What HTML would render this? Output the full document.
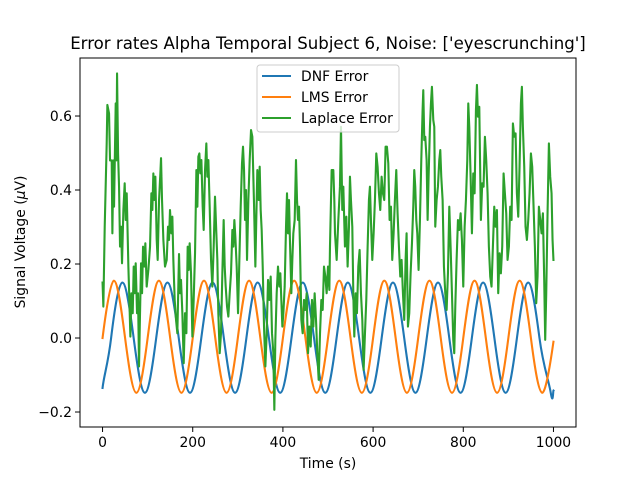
<!DOCTYPE html>
<html><head><meta charset="utf-8"><style>
html,body{margin:0;padding:0;background:#fff}
svg{display:block;font-family:"DejaVu Sans","Liberation Sans",sans-serif}
</style></head><body>
<svg id="chart" width="640" height="480" viewBox="0 0 640 480">
<rect width="640" height="480" fill="#fff"/>
<text x="328" y="49" text-anchor="middle" font-size="16.6" fill="#000">Error rates Alpha Temporal Subject 6, Noise: ['eyescrunching']</text>
<g id="plot"></g>
<g id="xticks"></g>
<g id="yticks"></g>
<rect x="80" y="58" width="496" height="369" fill="none" stroke="#000" stroke-width="1"/>
<text x="328" y="468" text-anchor="middle" font-size="13.9">Time (s)</text>
<text transform="translate(25,242) rotate(-90)" text-anchor="middle" font-size="13.9">Signal Voltage (<tspan font-style="italic">μ</tspan>V)</text>
<g>
<rect x="257" y="65" width="142" height="67" rx="3" fill="#fff" fill-opacity="0.8" stroke="#ccc"/>
<line x1="262" y1="76" x2="291" y2="76" stroke="#1f77b4" stroke-width="2.1"/>
<text x="301" y="81" font-size="13.9">DNF Error</text>
<line x1="262" y1="97" x2="291" y2="97" stroke="#ff7f0e" stroke-width="2.1"/>
<text x="301" y="102" font-size="13.9">LMS Error</text>
<line x1="262" y1="118" x2="291" y2="118" stroke="#2ca02c" stroke-width="2.1"/>
<text x="301" y="123" font-size="13.9">Laplace Error</text>
</g>
</svg>
<script>
const xTicks=[0,200,400,600,800,1000];
const yTicks=[-0.2,0,0.2,0.4,0.6];
const yTickLabels=["−0.2","0.0","0.2","0.4","0.6"];
const lmsT=[0,25,50,75,100,125,150,175,200,225,250,275,300,325,350,375,400,425,450,475,500,525,550,575,600,625,650,675,700,725,750,775,800,825,850,875,900,925,950,975,1000];
const lmsV=[0,.155,0,-.148,0,.155,0,-.148,0,.155,0,-.148,0,.155,0,-.148,0,.155,0,-.148,0,.155,0,-.148,0,.155,0,-.148,0,.155,0,-.148,0,.155,0,-.148,0,.155,0,-.148,-.01];
const dnfT=[0,19,44,69,94,119,144,169,194,219,244,269,294,319,344,369,394,419,444,469,494,519,544,569,594,619,644,669,694,719,744,769,794,819,844,869,894,919,944,969,994,1000];
const dnfV=[-.135,0,.15,0,-.148,0,.15,0,-.148,0,.15,0,-.148,0,.15,0,-.148,0,.15,0,-.148,0,.15,0,-.148,0,.15,0,-.148,0,.15,0,-.148,0,.15,0,-.148,0,.15,0,-.148,-.142];
const lapT=[0,1.8,4.8,9.2,10.7,14.4,16.6,20.3,21.8,24,25.5,29.2,30.7,32.2,34.4,36.6,38.8,41,43.2,46.2,49.1,51.4,53.6,57.3,59.5,61.7,64,66.9,69.1,71.3,73.5,76.5,78.7,80.9,83.1,85.4,87.6,89.8,92.7,94.9,97.9,101.6,105.3,108.3,110.5,112.7,114.9,117.1,120.1,122.3,125.3,128.2,129.7,131.9,134.9,138.5,142.3,145.2,147.4,149.6,152.6,154.8,157,160,163,165.9,169.6,171.8,174,177,180,182.9,185.9,188.8,191,193.2,196.2,199.2,202.1,205.1,208.1,210.3,212.5,214.7,216.9,219.2,222.1,224.3,227.3,230.2,232.4,234.7,237.6,240.6,243.5,246.5,249.4,252.4,254.6,256.8,259.8,262.7,265.7,268.6,270.9,273.1,276.1,279,282,284.9,287.9,290.1,292.3,294.5,297.5,300.5,303.4,306.4,309.3,311.5,313.8,316,318.2,320.4,323.4,326.3,329.3,332.2,335.9,338.9,341.1,343.3,346.3,348.5,350.7,352.9,355.2,358.1,361.1,364,367,369.9,372.9,375.8,378.8,381,383.2,386.2,389.1,392.1,394.3,396.5,398.8,401,403.9,406.9,409.1,411.3,413.5,415.8,418.7,420.9,423.1,426.1,429,431.3,433.5,435.7,437.9,440.9,443.8,446.8,449.8,452.7,455.7,458.6,461.6,464.5,467.5,470.4,473.4,476.3,479.3,482.3,485.2,488.2,491.1,494.1,497,500,503,504.4,508.1,511.8,514,515.5,519.2,522.9,526.5,528.8,531.7,534,537.6,540.6,543.5,546.5,548.7,550.9,553.9,556.1,558.3,561.3,564.2,567.2,570.1,573.1,576.1,579,582,584.9,587.9,590.8,593,595.2,598.2,601.2,604.1,607.1,610,613,615.9,618.9,621.8,624.8,627.7,630.7,633.7,636.6,639.6,642.5,645.5,648.4,651.4,654.3,657.3,660.3,663.2,666.2,669.1,672.1,674.3,677.3,680.2,683.2,686.2,689.1,691.3,693.5,695.8,698,700.9,703.9,706.9,709.8,711.3,713.5,715.7,718.7,720.9,723.1,726.1,728.3,730.5,733.5,735.7,737.9,740.9,743.8,746.8,749,751.2,754.2,757.1,760.1,763.1,766,769,771.9,774.9,777.8,780,782.3,785.2,788.2,791.1,794.1,797,800,803,805.9,808.9,811.1,813.3,816.3,819.2,822.2,825.1,828.1,830.3,832.6,835.5,839.1,842,845,848,850.9,853.9,856.8,859.8,862.7,865.7,868.7,871.6,874.6,877.5,880.5,883.4,886.4,889.4,892.3,895.3,898.2,901.2,904.1,907.1,910.1,913,916,918.9,921.9,924.8,927.8,930,932.2,935.2,938.1,941.1,944.1,947,950,952.9,955.9,958.8,961.8,964.7,967.7,970.7,973.6,976.6,979.5,981.7,984,986.9,989.9,992.8,995.8,998,1000];
const lapV=[0.15,0.085,0.30,0.526,0.63,0.607,0.48,0.48,0.283,0.48,0.355,0.634,0.48,0.715,0.499,0.409,0.247,0.301,0.202,0.346,0.418,0.319,0.391,0.193,0.103,0.004,0.121,0.067,0.193,0.121,0.202,0.067,0.121,-0.077,0.067,0.202,0.121,0.247,0.193,0.256,0.139,0.184,0.247,0.391,0.346,0.445,0.373,0.436,0.265,0.211,0.373,0.445,0.486,0.373,0.265,0.193,0.211,0.301,0.265,0.346,0.283,0.328,0.211,0.103,0.049,0.013,0.227,0.121,0.157,0.067,-0.068,0.067,0.013,0.247,0.184,0.256,0.175,0.004,0.103,0.229,0.454,0.355,0.49,0.499,0.445,0.481,0.355,0.292,0.454,0.526,0.436,0.481,0.355,0.211,0.139,0.247,0.382,0.283,0.211,0.067,-0.041,0.013,0.175,0.319,0.193,0.139,0.085,0.058,0.121,0.175,0.292,0.247,0.319,0.274,0.193,0.067,0.211,0.355,0.472,0.517,0.454,0.319,0.4,0.211,0.373,0.481,0.562,0.544,0.364,0.193,0.328,0.454,0.373,0.463,0.346,0.292,0.193,0.031,-0.077,0.013,0.157,0.103,0.166,0.013,-0.041,-0.194,-0.005,0.121,0.193,0.139,0.175,0.103,0.031,0.067,0.139,0.301,0.391,0.283,0.373,0.256,0.121,0.211,0.283,0.319,0.481,0.373,0.319,0.355,0.247,0.049,0.013,0.103,0.076,0.121,-0.041,0.031,-0.023,0.103,0.031,0.121,0.049,-0.041,-0.113,0.013,0.103,0.076,0.193,0.166,0.121,0.193,0.130,0.247,0.454,0.454,0.373,0.283,0.211,0.319,0.409,0.571,0.346,0.409,0.247,0.328,0.193,0.301,0.436,0.373,0.301,0.121,0.004,0.121,0.067,0.193,0.238,0.121,0.049,-0.086,0.013,0.103,0.247,0.373,0.409,0.319,0.211,0.283,0.373,0.499,0.463,0.391,0.346,0.436,0.391,0.373,0.517,0.517,0.472,0.319,0.355,0.211,0.283,0.373,0.454,0.337,0.247,0.166,0.211,0.121,0.049,0.211,0.283,0.031,0.067,0.175,0.256,0.355,0.454,0.409,0.319,0.283,0.184,0.319,0.481,0.616,0.67,0.535,0.544,0.481,0.319,0.436,0.571,0.634,0.679,0.589,0.571,0.301,0.373,0.409,0.481,0.508,0.436,0.373,0.193,0.121,0.076,0.175,0.355,0.247,0.121,-0.005,-0.041,0.085,0.211,0.319,0.292,0.337,0.265,0.139,0.301,0.373,0.481,0.634,0.571,0.436,0.283,0.445,0.391,0.616,0.684,0.598,0.625,0.319,0.418,0.409,0.544,0.481,0.391,0.247,0.166,0.139,0.247,0.355,0.301,0.346,0.121,0.229,0.175,0.247,0.445,0.391,0.337,0.211,0.247,0.355,0.319,0.58,0.544,0.553,0.391,0.328,0.463,0.634,0.679,0.571,0.463,0.301,0.265,0.319,0.391,0.499,0.463,0.355,0.247,0.094,0.166,0.355,0.319,0.283,0.337,0.157,-0.005,0.121,0.337,0.526,0.436,0.391,0.265,0.211];

const NS="http://www.w3.org/2000/svg";
const X0=80,X1=576,Y0=427,Y1=58,xmin=-50,xmax=1050,ymin=-0.2405,ymax=0.7568;
function sx(t){return X0+(t-xmin)/(xmax-xmin)*(X1-X0);}
function sy(v){return Y0-(v-ymin)/(ymax-ymin)*(Y0-Y1);}
const plot=document.getElementById('plot');
function smoothPath(T,V){
  const p=T.map((t,i)=>[sx(t),sy(V[i])]);
  const k=0.26;
  let d="M"+p[0][0].toFixed(2)+","+p[0][1].toFixed(2);
  for(let i=0;i<p.length-1;i++){
    const a=p[Math.max(0,i-1)],b=p[i],c=p[i+1],e=p[Math.min(p.length-1,i+2)];
    const c1=[b[0]+(c[0]-a[0])/6,b[1]+(c[1]-a[1])*k];
    const c2=[c[0]-(e[0]-b[0])/6,c[1]-(e[1]-b[1])*k];
    d+="C"+c1[0].toFixed(2)+","+c1[1].toFixed(2)+" "+c2[0].toFixed(2)+","+c2[1].toFixed(2)+" "+c[0].toFixed(2)+","+c[1].toFixed(2);
  }
  return d;
}
function linePath(T,V){return T.map((t,i)=>(i?"L":"M")+sx(t).toFixed(2)+","+sy(V[i]).toFixed(2)).join("");}
function addPath(d,color,name){
  const el=document.createElementNS(NS,'path');
  el.setAttribute('d',d);el.setAttribute('fill','none');el.setAttribute('stroke',color);
  el.setAttribute('stroke-width','2.1');el.setAttribute('stroke-linejoin','round');el.setAttribute('stroke-linecap','square');
  
  
  plot.appendChild(el);
}
addPath(smoothPath(dnfT,dnfV),'#1f77b4','dnf-error-line');
addPath(smoothPath(lmsT,lmsV),'#ff7f0e','lms-error-line');
addPath(linePath(lapT,lapV),'#2ca02c','laplace-error-line');

const xg=document.getElementById('xticks');
xTicks.forEach(t=>{
  const l=document.createElementNS(NS,'line');
  l.setAttribute('x1',sx(t));l.setAttribute('x2',sx(t));l.setAttribute('y1',427);l.setAttribute('y2',432);l.setAttribute('stroke','#000');
  
  
  xg.appendChild(l);
  const tx=document.createElementNS(NS,'text');
  tx.setAttribute('x',sx(t));tx.setAttribute('y',447);tx.setAttribute('text-anchor','middle');tx.setAttribute('font-size','13.9');
  tx.textContent=String(t);
  
  
  xg.appendChild(tx);
});
const yg=document.getElementById('yticks');
yTicks.forEach((v,i)=>{
  const l=document.createElementNS(NS,'line');
  l.setAttribute('x1',75);l.setAttribute('x2',80);l.setAttribute('y1',sy(v));l.setAttribute('y2',sy(v));l.setAttribute('stroke','#000');
  
  
  yg.appendChild(l);
  const tx=document.createElementNS(NS,'text');
  tx.setAttribute('x',72);tx.setAttribute('y',sy(v)+5);tx.setAttribute('text-anchor','end');tx.setAttribute('font-size','13.9');
  tx.textContent=yTickLabels[i];
  
  
  yg.appendChild(tx);
});
</script>
</body></html>
